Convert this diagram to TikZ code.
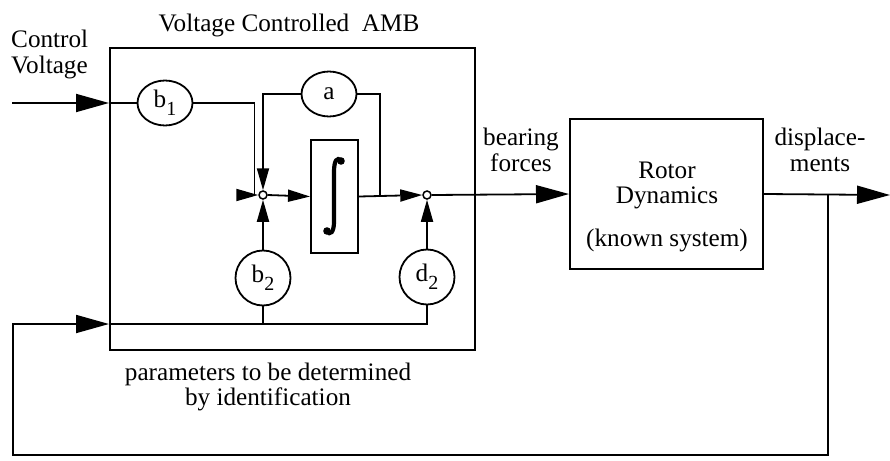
\documentclass[tikz,border=0pt]{standalone}
\usepackage{fontspec}
\setmainfont{Liberation Serif}
\usetikzlibrary{arrows.meta,shapes.geometric}
\newcommand\lowsub[1]{\raisebox{-0.32em}{\fontsize{20}{20}\selectfont #1}}
\begin{document}
\begin{tikzpicture}[x=1pt,y=-1pt,
  every node/.style={font=\fontsize{25.2}{25}\selectfont},
  ln/.style={line width=1.8pt},
  boxn/.style={draw,line width=2pt,rectangle,inner sep=0pt},
  gainell/.style={draw,ellipse,line width=1.8pt,minimum width=55pt,minimum height=45pt,inner sep=0pt},
  gaincirc/.style={draw,circle,line width=1.8pt,minimum size=55pt,inner sep=0pt},
  junc/.style={draw,circle,line width=1.5pt,fill=white,minimum size=8pt,inner sep=0pt},
  smallarr/.style={ln,-{Triangle[length=22pt,width=12pt]}},
  bigarr/.style={ln,-{Triangle[length=33pt,width=18pt]}},
  lbl/.style={anchor=base,inner sep=0pt}
]
\useasboundingbox (0,0) rectangle (890,460);

% main blocks
\node[boxn,minimum width=365pt,minimum height=302pt] (amb) at (292.5,199) {};
\node[boxn,minimum width=193pt,minimum height=150pt] (rotor) at (666.5,194) {};
\node[boxn,minimum width=47pt,minimum height=113pt] (int) at (334.5,196.5) {};

% integral sign
\draw[line width=4.2pt,line cap=round] (341,161) .. controls (337,156) and (334,161) .. (334,172) -- (334,222) .. controls (334,232) and (330,236) .. (327,231);
\fill (341,161) circle (3.8);
\fill (327,231) circle (3.8);

% gains
\node[gainell] (b1) at (165,103) {b\lowsub{1}};
\node[gainell] (a) at (329,94) {a};
\node[gaincirc] (b2) at (263,278) {b\lowsub{2}};
\node[gaincirc] (d2) at (427,277) {d\lowsub{2}};

% junctions
\node[junc] (j1) at (263,195) {};
\node[junc] (j2) at (427,195) {};

% coordinates
\coordinate (in) at (12,103);
\coordinate (inTip) at (amb.west |- b1);
\coordinate (tap) at (380,195);
\coordinate (out) at (890,195);
\coordinate (fb) at (828,195);
\coordinate (fbBot) at (828,455);
\coordinate (fbLeft) at (13,324);
\coordinate (fbTip) at (amb.west |- fbLeft);

% connectors
\draw[bigarr] (in) -- (inTip);
\draw[ln] (inTip) -- (b1.west);
\draw[smallarr] (b1.east) -- ++(61,0) |- (j1.west);
\draw[smallarr] (a.west) -| (j1.north);
\draw[ln] (a.east) -| (tap);
\draw[smallarr] (j1.east) -- (int.west);
\draw[smallarr] (int.east) -- (j2.west);
\draw[smallarr] (b2.north) -- (j1.south);
\draw[smallarr] (d2.north) -- (j2.south);
\draw[bigarr] (j2.east) -- (rotor.west);
\draw[bigarr] (rotor.east) -- (out);
\draw[bigarr] (fb) -- (fbBot) -| (fbLeft) -- (fbTip);
\draw[ln] (fbTip) -| (d2.south);
\draw[ln] (b2.south) -- (b2.south |- fbTip);

% labels
\node[lbl] (title) at (289,32) {Voltage Controlled\ \ AMB};
\node[lbl,anchor=base west] (cv1) at (11,48) {Control};
\node[lbl,anchor=base west] (cv2) at (11,74) {Voltage};
\node[lbl] (bf1) at (521,145) {bearing};
\node[lbl] (bf2) at (521,171) {forces};
\node[lbl] (dp1) at (820,145) {displace-};
\node[lbl] (dp2) at (820,171) {ments};
\node[lbl] (r1) at (667,178) {Rotor};
\node[lbl] (r2) at (667,203) {Dynamics};
\node[lbl] (r3) at (667,246) {(known system)};
\node[lbl,align=center,font=\fontsize{25.2}{22}\selectfont] (params) at (268,405) {parameters to be determined\\by identification};
\end{tikzpicture}
\end{document}
